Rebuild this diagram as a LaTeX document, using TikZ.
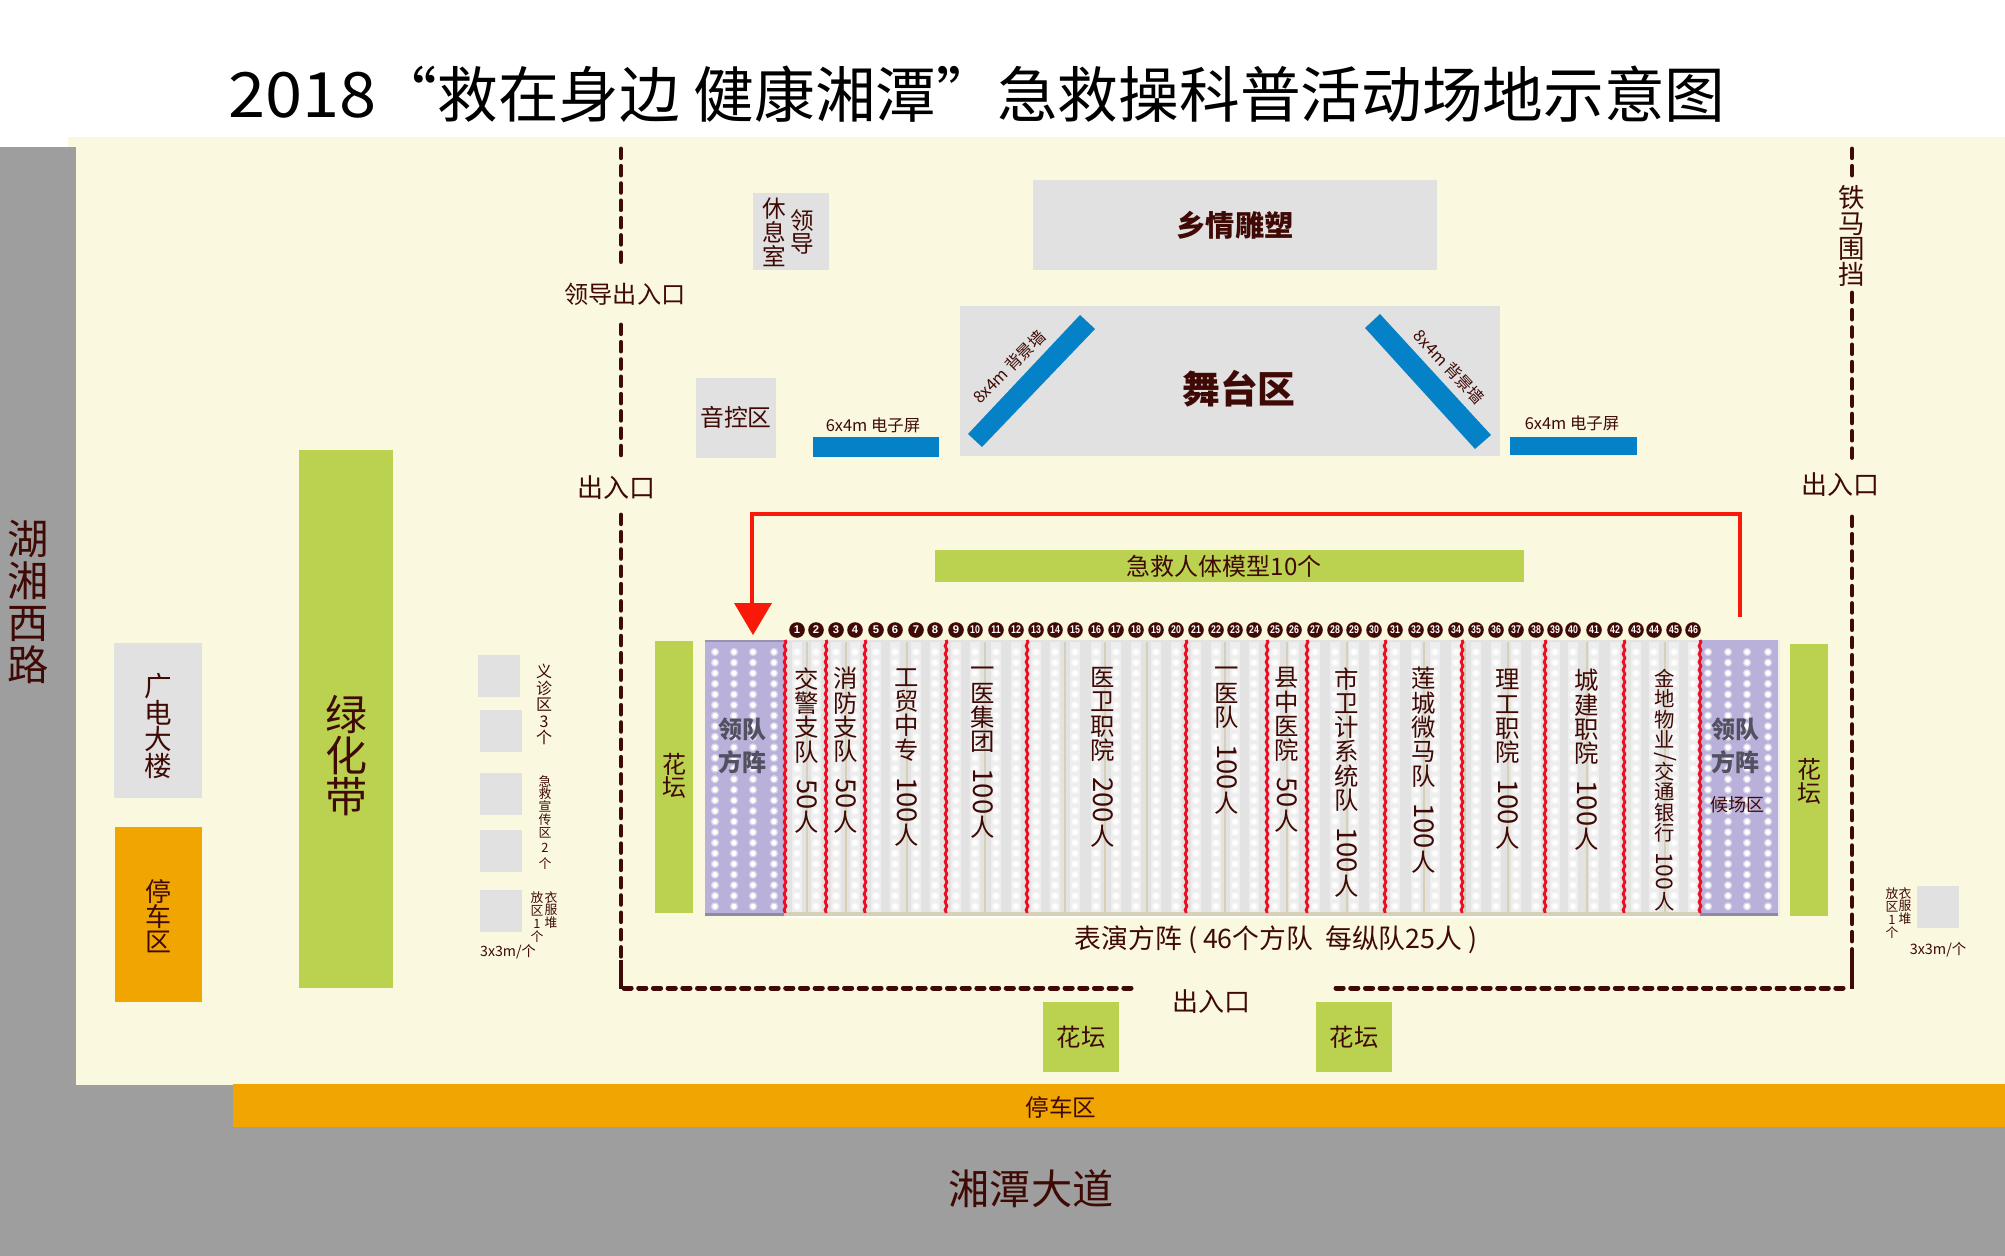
\documentclass[tikz,border=0pt]{standalone}
\usepackage{fontspec}
\usepackage{graphicx}
\setmainfont{Noto Sans CJK SC}
\newfontfamily\numfont{Liberation Sans}
\usetikzlibrary{decorations.pathmorphing}
\definecolor{cream}{HTML}{FAF8DE}
\definecolor{road}{HTML}{9E9E9E}
\definecolor{lgray}{HTML}{E1E1E1}
\definecolor{lawn}{HTML}{BBD251}
\definecolor{park}{HTML}{F0A500}
\definecolor{wall}{HTML}{0581C8}
\definecolor{ink}{HTML}{3F0A05}
\definecolor{lead}{HTML}{B9B1D9}
\definecolor{redline}{HTML}{F8190B}
\definecolor{redwave}{HTML}{EE0C24}
\definecolor{tan}{HTML}{D6D0B6}
\newcommand{\fsz}[1]{\fontsize{#1}{#1}\selectfont}
\newcommand{\vnum}[1]{\rotatebox[origin=c]{-90}{\scalebox{1.12}{#1}}}
\tikzset{
  lbl/.style={text=ink,inner sep=0pt,align=center},
  tall/.style={lbl,anchor=north,font=\fontsize{12.2}{12.15}\selectfont},
  fence/.style={draw=ink,line width=2.4pt,line cap=round,dash pattern=on 4.4pt off 4.25pt},
  fenceh/.style={draw=ink,line width=2.5pt,line cap=round,dash pattern=on 3.6pt off 3.75pt},
  numdot/.style={circle,fill=ink,text=white,inner sep=0pt,minimum size=7.8pt,font=\numfont\bfseries\fontsize{5.6}{5.6}\selectfont},
  wave/.style={draw=redwave,line width=1.4pt,decorate,decoration={zigzag,amplitude=.45pt,segment length=4pt}}
}
\begin{document}
\begin{tikzpicture}[x=0.5pt,y=-0.5pt]
\useasboundingbox (0,0) rectangle (2005,1256);
% ground
\fill[white] (0,0) rectangle (2005,1256);
\fill[cream] (68,137) rectangle (2005,1085);
\fill[road] (0,147) rectangle (76,1256);
\fill[road] (0,1085) rectangle (2005,1256);
\fill[park] (233,1084) rectangle (2005,1127);
\node[text=black,inner sep=0pt,font=\fsz{30.35}] (title) at (977,94) {\scalebox{1.1}[1.03]{2018}“救在身边 健康湘潭”急救操科普活动场地示意图};
\node[lbl,font=\fsz{20.6}] (road1) at (1031,1189) {湘潭大道};
\node[lbl,font=\fontsize{20.7}{20.9}\selectfont] (road2) at (28,602) {湖\\湘\\西\\路};
\node[lbl,font=\fsz{11.8}] (parkb) at (1061,1107) {停车区};
% left column
\fill[lgray] (114,643) rectangle (202,798);
\node[lbl,font=\fontsize{13.8}{13.2}\selectfont] (gd) at (158,726) {广\\电\\大\\楼};
\fill[park] (115,827) rectangle (202,1002);
\node[lbl,font=\fontsize{13}{12.4}\selectfont] (pk) at (158,916) {停\\车\\区};
\fill[lawn] (299,450) rectangle (393,988);
\node[lbl,font=\fontsize{21}{20.5}\selectfont] (lh) at (346,756) {绿\\化\\带};
% small squares
\foreach \a/\b/\c in {478/655/697,480/710/752,480/773/815,480/830/872,480/890/932,1917/886/928}
  \fill[lgray] (\a,\b) rectangle ({\a+42},\c);
\node[tall,font=\fontsize{8}{8.2}\selectfont] (yz) at (544,664) {义\\诊\\区\\3\\个};
\node[tall,font=\fontsize{6.4}{6.4}\selectfont] (jj) at (545,775) {急\\救\\宣\\传\\区\\[1.4pt]2\\[1.4pt]个};
\node[tall,font=\fontsize{6.4}{6.2}\selectfont] (yf1) at (551,891) {衣\\服\\堆};
\node[tall,font=\fontsize{6.4}{6.6}\selectfont] (ff1) at (537,891) {放\\区\\1\\个};
\node[lbl,font=\fsz{7.1}] (sz1) at (508,952) {3x3m/个};
\node[tall,font=\fontsize{6.4}{6.2}\selectfont] (yf2) at (1905,887) {衣\\服\\堆};
\node[tall,font=\fontsize{6.4}{6.6}\selectfont] (ff2) at (1892,887) {放\\区\\1\\个};
\node[lbl,font=\fsz{7.2}] (sz2) at (1938,950) {3x3m/个};
% upper blocks
\fill[lgray] (753,193) rectangle (829,270);
\node[lbl,font=\fontsize{11.8}{12}\selectfont] (xx) at (774,232) {休\\息\\室};
\node[lbl,font=\fontsize{11.8}{11.7}\selectfont] (ld) at (802,232) {领\\导};
\fill[lgray] (696,378) rectangle (776,458);
\node[lbl,font=\fsz{11.9}] (yk) at (736,417) {音控区};
\fill[lgray] (1033,180) rectangle (1437,270);
\node[lbl,font=\bfseries\fsz{14.6}] (xq) at (1235,225) {乡情雕塑};
\fill[lgray] (960,306) rectangle (1500,456);
\node[lbl,font=\bfseries\fsz{18.9}] (wt) at (1239,389) {舞台区};
\fill[wall] (1080,315) -- (1095,329) -- (982,447) -- (968,434) -- cycle;
\fill[wall] (1380,314) -- (1365,328) -- (1475,449) -- (1491,435) -- cycle;
\fill[wall] (813,437) rectangle (939,457);
\fill[wall] (1510,437) rectangle (1637,455);
\node[lbl,font=\fsz{8.2},rotate=45] (bj1) at (1009,367) {8x4m 背景墙};
\node[lbl,font=\fsz{8.2},rotate=-47] (bj2) at (1449,367) {8x4m 背景墙};
\node[lbl,font=\fsz{8.2}] (dz1) at (873,425) {6x4m 电子屏};
\node[lbl,font=\fsz{8.2}] (dz2) at (1572,423) {6x4m 电子屏};
% fence
\draw[fence] (621,149) -- (621,270);
\draw[fence] (621,325) -- (621,458);
\draw[fence] (621,515) -- (621,960);
\draw[ink,line width=2.4pt] (621,960) -- (621,989);
\draw[fence] (1852,149) -- (1852,178);
\draw[fence] (1852,293) -- (1852,458);
\draw[fence] (1852,517) -- (1852,955);
\draw[ink,line width=2.4pt] (1852,955) -- (1852,989);
\draw[fenceh] (624,988) -- (1133,988);
\draw[fenceh] (1336,988) -- (1850,988);
\node[lbl,font=\fsz{12.1}] (ent1) at (625,294) {领导出入口};
\node[lbl,font=\fsz{13}] (ent2) at (616,488) {出入口};
\node[lbl,font=\fsz{13}] (ent3) at (1840,485) {出入口};
\node[lbl,font=\fsz{13}] (ent4) at (1211,1002) {出入口};
\node[lbl,font=\fontsize{13.2}{12.9}\selectfont] (tm) at (1852,236) {铁\\马\\围\\挡};
% flower beds
\fill[lawn] (655,641) rectangle (693,913);
\node[lbl,font=\fontsize{12}{11.7}\selectfont] (h1) at (674,776) {花\\坛};
\fill[lawn] (1790,644) rectangle (1828,916);
\node[lbl,font=\fontsize{12}{11.9}\selectfont] (h2) at (1809,781) {花\\坛};
\fill[lawn] (1043,1002) rectangle (1119,1072);
\node[lbl,font=\fsz{12.2}] (h3) at (1081,1037) {花坛};
\fill[lawn] (1316,1002) rectangle (1392,1072);
\node[lbl,font=\fsz{12.2}] (h4) at (1354,1037) {花坛};
% model bar
\fill[lawn] (935,550) rectangle (1524,582);
\node[lbl,font=\fsz{12}] (mx) at (1224,566) {急救人体模型10个};
% red route
\coordinate (ra) at (1740,617);
\coordinate (rb) at (1740,514);
\coordinate (rc) at (752,514);
\coordinate (rd) at (752,610);
\draw[redline,line width=2.3pt] (ra) -- (rb) -- (rc) -- (rd);
\fill[redline] (734,603) -- (772,603) -- (753,635) -- cycle;
% formation
\fill[lgray!92!white] (784,640) rectangle (1700,915);
\fill[lead] (705,640) rectangle (784,915);
\fill[lead] (1699,640) rectangle (1780,915);
\fill[black!22!lead] (705,913) rectangle (784,916);
\fill[black!22!lead] (1699,913) rectangle (1780,916);
\fill[black!18!lead] (705,640) rectangle (784,642);
\fill[white!40!lgray] (1778,640) rectangle (1780,916);
\fill[tan] (784,912) rectangle (1700,916);
\fill[white] (784,916) rectangle (1699,918);
\foreach \x in {807,846,907,985,1065,1105,1147,1225,1287,1347,1424,1465,1508,1587,1665}
  \draw[tan,line width=.9pt] (\x,642) -- (\x,912);
\foreach \x in {797,816,836,855,876,895,916,935,956,975,996,1016,1036,1055,1075,1096,1116,1136,1156,1176,1196,1216,1235,1254,1275,1294,1315,1335,1354,1374,1395,1416,1435,1456,1476,1496,1516,1536,1555,1573,1594,1615,1636,1654,1674,1693}{
  \fill[white,opacity=.4] ({\x-5},642) rectangle ({\x+5},912);
  \foreach \k in {0,...,24}{
    \fill[white,opacity=.5] (\x,{652+\k*10.6}) circle[radius=4];
    \fill[white] (\x,{652+\k*10.6}) circle[radius=2.5];
  }
}
\foreach \x in {715,734,753,774,1708,1728,1747,1768}
  \foreach \k in {0,...,24}{
    \fill[white,opacity=.45] (\x,{652+\k*10.6}) circle[radius=4.2];
    \fill[white] (\x,{652+\k*10.6}) circle[radius=2.7];
  }
\foreach \x in {785,826,865,946,1027,1186,1267,1307,1385,1462,1545,1624,1700}
  \draw[wave] (\x,640) -- (\x,913);
\foreach \x [count=\i] in {797,816,836,855,876,895,916,935,956,975,996,1016,1036,1055,1075,1096,1116,1136,1156,1176,1196,1216,1235,1254,1275,1294,1315,1335,1354,1374,1395,1416,1435,1456,1476,1496,1516,1536,1555,1573,1594,1615,1636,1654,1674,1693}
  \node[numdot] (n\i) at (\x,630) {\ifnum\i>9 \scalebox{.78}[1]{\i}\else\i\fi};
% formation labels
\node[lbl,text=black!55!lead,font=\bfseries\fontsize{12}{16.5}\selectfont] (lf1) at (742,746) {领队\\方阵};
\node[lbl,text=black!55!lead,font=\bfseries\fontsize{12}{16.5}\selectfont] (lf2) at (1735,746) {领队\\方阵};
\node[lbl,font=\fsz{9}] (hc) at (1737,805) {候场区};
\node[tall] (t1) at (807,667) {交\\警\\支\\队\\[7pt]\vnum{50}\\人};
\node[tall] (t2) at (846,667) {消\\防\\支\\队\\[7pt]\vnum{50}\\人};
\node[tall] (t3) at (907,668) {工\\贸\\中\\专\\[7pt]\vnum{100}\\人};
\node[tall] (t4) at (983,667) {一\\医\\集\\团\\[7pt]\vnum{100}\\人};
\node[tall] (t5) at (1103,667) {医\\卫\\职\\院\\[7pt]\vnum{200}\\人};
\node[tall] (t6) at (1227,667) {一\\医\\队\\[7pt]\vnum{100}\\人};
\node[tall] (t7) at (1287,667) {县\\中\\医\\院\\[7pt]\vnum{50}\\人};
\node[tall] (t8) at (1347,667) {市\\卫\\计\\系\\统\\队\\[7pt]\vnum{100}\\人};
\node[tall] (t9) at (1424,667) {莲\\城\\微\\马\\队\\[7pt]\vnum{100}\\人};
\node[tall] (t10) at (1508,669) {理\\工\\职\\院\\[7pt]\vnum{100}\\人};
\node[tall] (t11) at (1587,669) {城\\建\\职\\院\\[7pt]\vnum{100}\\人};
\node[tall,font=\fontsize{10.2}{10.1}\selectfont] (t12) at (1665,669) {金\\地\\物\\业\\[-2pt]\vnum{/}\\[-2pt]交\\通\\银\\行\\[4pt]\vnum{100}\\人};
\node[lbl,font=\fsz{13.4}] (cap) at (1276,940) {表演方阵 ( 46个方队\ \ 每纵队25人 )};
\end{tikzpicture}
\end{document}
